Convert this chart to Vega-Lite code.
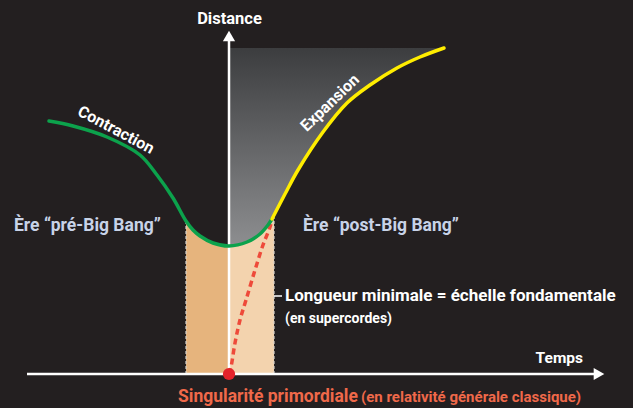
{
  "$schema": "https://vega.github.io/schema/vega-lite/v6.json",
  "width": 633,
  "height": 408,
  "autosize": {"type": "fit", "contains": "padding"},
  "padding": 0,
  "background": "#231f20",
  "config": {"view": {"stroke": null}, "text": {"font": "Roboto", "fontWeight": "bold"}},
  "datasets": {
    "contraction": [
      {"t": -18.0, "d": 25.3}, {"t": -15.6, "d": 24.8}, {"t": -12.2, "d": 23.7},
      {"t": -8.9, "d": 21.9}, {"t": -7.2, "d": 19.9}, {"t": -5.6, "d": 17.6},
      {"t": -4.3, "d": 15.3}, {"t": -3.6, "d": 14.4}, {"t": -2.9, "d": 13.8},
      {"t": -1.6, "d": 13.1}, {"t": 0, "d": 12.8}, {"t": 1.8, "d": 13.2},
      {"t": 3.1, "d": 14.0}, {"t": 3.9, "d": 14.9}, {"t": 4.3, "d": 15.5}
    ],
    "expansion": [
      {"t": 4.3, "d": 15.5}, {"t": 5.6, "d": 18.0}, {"t": 6.9, "d": 20.4},
      {"t": 9.4, "d": 24.2}, {"t": 11.8, "d": 27.1}, {"t": 14.1, "d": 28.9},
      {"t": 16.8, "d": 30.6}, {"t": 19.1, "d": 31.7}, {"t": 21.5, "d": 32.6}
    ],
    "gray": [
      {"t": 0, "d": 12.8}, {"t": 1.8, "d": 13.2}, {"t": 3.1, "d": 14.0},
      {"t": 3.9, "d": 14.9}, {"t": 4.3, "d": 15.5}, {"t": 5.6, "d": 18.0},
      {"t": 6.9, "d": 20.4}, {"t": 9.4, "d": 24.2}, {"t": 11.8, "d": 27.1},
      {"t": 14.1, "d": 28.9}, {"t": 16.8, "d": 30.6}, {"t": 19.1, "d": 31.7},
      {"t": 21.5, "d": 32.6}
    ],
    "preBB": [
      {"t": -4.3, "d": 15.3}, {"t": -3.6, "d": 14.4}, {"t": -2.9, "d": 13.8},
      {"t": -1.6, "d": 13.1}, {"t": 0, "d": 12.8}
    ],
    "postBB": [
      {"t": 0, "d": 12.8}, {"t": 1.8, "d": 13.2}, {"t": 3.1, "d": 14.0},
      {"t": 3.9, "d": 14.9}, {"t": 4.3, "d": 15.5}, {"t": 4.5, "d": 15.9}
    ],
    "bounds": [
      {"t": -4.3, "d": 0, "d2": 15.3}, {"t": 4.5, "d": 0, "d2": 15.9}
    ],
    "singular": [
      {"t": 0, "d": 0}, {"t": 0.2, "d": 0.7}, {"t": 0.6, "d": 3.1},
      {"t": 1.1, "d": 5.4}, {"t": 1.7, "d": 7.4}, {"t": 2.6, "d": 10.4},
      {"t": 3.4, "d": 12.9}, {"t": 4.1, "d": 14.7}, {"t": 4.3, "d": 15.5}
    ]
  },
  "encoding": {
    "x": {"field": "t", "type": "quantitative", "axis": null,
          "scale": {"domain": [-22.9, 40.4], "nice": false, "zero": false}},
    "y": {"field": "d", "type": "quantitative", "axis": null,
          "scale": {"domain": [-3.4, 37.4], "nice": false, "zero": false}}
  },
  "layer": [
    {
      "data": {"name": "gray"},
      "mark": {"type": "area", "interpolate": "catmull-rom",
        "color": {"gradient": "linear", "x1": 0, "y1": 0, "x2": 0, "y2": 1,
          "stops": [{"offset": 0, "color": "#3c3d3f"}, {"offset": 1, "color": "#8d8e90"}]}},
      "encoding": {"y2": {"datum": 32.6}}
    },
    {
      "data": {"name": "preBB"},
      "mark": {"type": "area", "interpolate": "catmull-rom", "color": "#e6b47d"},
      "encoding": {"y2": {"datum": 0}}
    },
    {
      "data": {"name": "postBB"},
      "mark": {"type": "area", "interpolate": "catmull-rom", "color": "#f3d3ae"},
      "encoding": {"y2": {"datum": 0}}
    },
    {
      "data": {"name": "bounds"},
      "mark": {"type": "rule", "color": "#d8d3cc", "strokeWidth": 1.2, "strokeDash": [3, 2]},
      "encoding": {"y2": {"field": "d2"}}
    },
    {
      "data": {"values": [{"t": 0, "d": 0, "d2": 33.4}]},
      "mark": {"type": "rule", "color": "#ffffff", "strokeWidth": 2.5},
      "encoding": {"y2": {"field": "d2"}}
    },
    {
      "data": {"values": [{"t": -20.2, "t2": 37.0, "d": 0}]},
      "mark": {"type": "rule", "color": "#ffffff", "strokeWidth": 2.5},
      "encoding": {"x2": {"field": "t2"}}
    },
    {
      "data": {"values": [{"t": 0, "d": 33.8}]},
      "mark": {"type": "point", "shape": "triangle-up", "filled": true, "color": "#ffffff", "opacity": 1, "size": 150}
    },
    {
      "data": {"values": [{"t": 37.0, "d": 0}]},
      "mark": {"type": "point", "shape": "triangle-right", "filled": true, "color": "#ffffff", "opacity": 1, "size": 150}
    },
    {
      "data": {"name": "singular"},
      "mark": {"type": "line", "interpolate": "catmull-rom", "color": "#ee4a3a", "strokeWidth": 3.5, "strokeDash": [6, 4]}
    },
    {
      "data": {"name": "contraction"},
      "mark": {"type": "line", "interpolate": "catmull-rom", "color": "#0ca24c", "strokeWidth": 3.5, "strokeCap": "round"}
    },
    {
      "data": {"name": "expansion"},
      "mark": {"type": "line", "interpolate": "catmull-rom", "color": "#ffed00", "strokeWidth": 3.5, "strokeCap": "round"}
    },
    {
      "data": {"values": [{"t": 4.5, "t2": 5.3, "d": 7.8}]},
      "mark": {"type": "rule", "color": "#ffffff", "strokeWidth": 1.5},
      "encoding": {"x2": {"field": "t2"}}
    },
    {
      "data": {"values": [{"t": 0, "d": 0}]},
      "mark": {"type": "point", "shape": "circle", "filled": true, "color": "#e4222a", "opacity": 1, "size": 150}
    },
    {
      "data": {"values": [{"t": 0.05, "d": 35.0, "label": "Distance"}]},
      "mark": {"type": "text", "fontSize": 16.5, "color": "#ffffff", "align": "center", "baseline": "alphabetic"},
      "encoding": {"text": {"field": "label"}}
    },
    {
      "data": {"values": [{"t": -11.3, "d": 24.4, "label": "Contraction"}]},
      "mark": {"type": "text", "fontSize": 16, "color": "#ffffff", "align": "center", "baseline": "middle", "angle": 28},
      "encoding": {"text": {"field": "label"}}
    },
    {
      "data": {"values": [{"t": 10.1, "d": 27.1, "label": "Expansion"}]},
      "mark": {"type": "text", "fontSize": 16, "color": "#ffffff", "align": "center", "baseline": "middle", "angle": -44},
      "encoding": {"text": {"field": "label"}}
    },
    {
      "data": {"values": [{"t": -21.5, "d": 14.3, "label": "Ère “pré-Big Bang”"}, {"t": 7.4, "d": 14.3, "label": "Ère “post-Big Bang”"}]},
      "mark": {"type": "text", "fontSize": 17.5, "color": "#c8d3e8", "align": "left", "baseline": "alphabetic"},
      "encoding": {"text": {"field": "label"}}
    },
    {
      "data": {"values": [{"t": 5.6, "d": 7.3, "label": "Longueur minimale = échelle fondamentale"}]},
      "mark": {"type": "text", "fontSize": 17, "color": "#ffffff", "align": "left", "baseline": "alphabetic"},
      "encoding": {"text": {"field": "label"}}
    },
    {
      "data": {"values": [{"t": 5.6, "d": 5.1, "label": "(en supercordes)"}]},
      "mark": {"type": "text", "fontSize": 14, "color": "#ffffff", "align": "left", "baseline": "alphabetic"},
      "encoding": {"text": {"field": "label"}}
    },
    {
      "data": {"values": [{"t": 35.4, "d": 1.1, "label": "Temps"}]},
      "mark": {"type": "text", "fontSize": 15.5, "color": "#ffffff", "align": "right", "baseline": "alphabetic"},
      "encoding": {"text": {"field": "label"}}
    },
    {
      "data": {"values": [{"t": -5.1, "d": -2.8, "label": "Singularité primordiale"}]},
      "mark": {"type": "text", "fontSize": 17.5, "color": "#f0694a", "align": "left", "baseline": "alphabetic"},
      "encoding": {"text": {"field": "label"}}
    },
    {
      "data": {"values": [{"t": 13.2, "d": -2.8, "label": "(en relativité générale classique)"}]},
      "mark": {"type": "text", "fontSize": 15, "color": "#f0694a", "align": "left", "baseline": "alphabetic"},
      "encoding": {"text": {"field": "label"}}
    }
  ]
}
